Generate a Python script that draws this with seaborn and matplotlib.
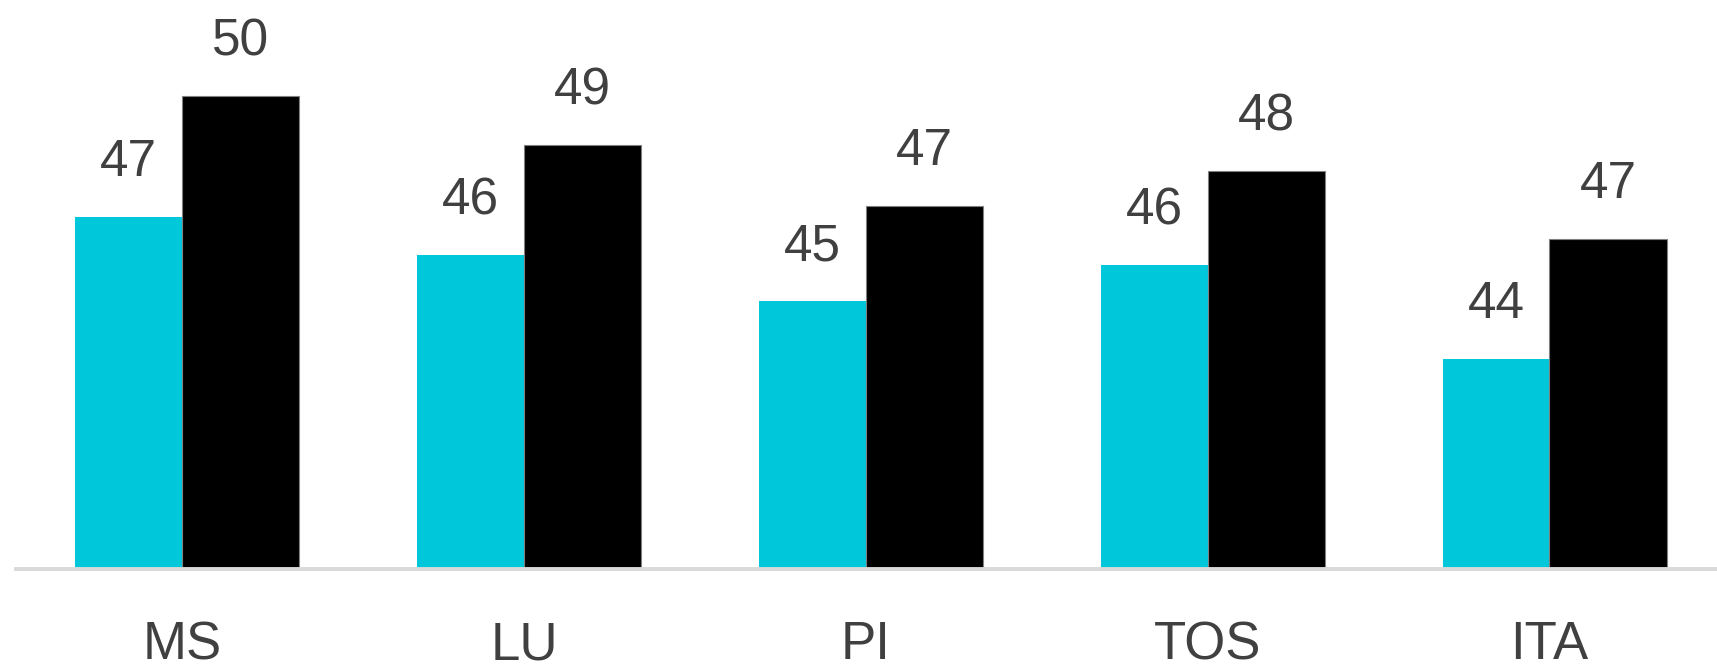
import matplotlib
matplotlib.use("Agg")
import matplotlib.pyplot as plt
import seaborn as sns
import pandas as pd

categories = ["MS", "LU", "PI", "TOS", "ITA"]
series_names = ["A", "B"]
values_a = [47.04, 46.17, 45.12, 45.94, 43.79]
values_b = [49.80, 48.68, 47.29, 48.09, 46.53]

CYAN = "#00C7DA"
BLACK = "#000000"
TEXT = "#404040"

df = pd.DataFrame({
    "cat": categories * 2,
    "val": values_a + values_b,
    "series": [series_names[0]] * len(categories) + [series_names[1]] * len(categories),
})

sns.set_theme(style="white")
plt.rcParams["font.family"] = ["Liberation Sans", "DejaVu Sans"]

fig = plt.figure(figsize=(17.17, 6.67), dpi=100)
ax = fig.add_axes([16 / 1717, 98 / 667, 1 - 16 / 1717, 1 - 98 / 667])

sns.barplot(data=df, x="cat", y="val", hue="series", palette=[CYAN, BLACK],
            width=0.654, gap=0, legend=False, ax=ax, saturation=1, errorbar=None)

# adjust bar geometry: cyan narrower, black wider, touching at category center
w_a, w_b = 0.313, 0.343
for i, p in enumerate(ax.containers[0]):
    p.set_x(i - w_a)
    p.set_width(w_a)
    p.set_edgecolor("none")
for i, p in enumerate(ax.containers[1]):
    p.set_x(i)
    p.set_width(w_b)
    p.set_edgecolor("#808080")
    p.set_linewidth(0.8)

ax.set_ylim(39, 52)
ax.set_xlim(-0.486, 4.49)

for cont, vals, off in [(ax.containers[0], values_a, -w_a / 2), (ax.containers[1], values_b, w_b / 2)]:
    for i, v in enumerate(vals):
        ax.annotate(f"{v:.0f}", xy=(i + off, v), xytext=(0, 29.5), textcoords="offset points",
                    ha="center", va="baseline", fontsize=37, color=TEXT)

for s in ["top", "right", "left"]:
    ax.spines[s].set_visible(False)
ax.spines["bottom"].set_color("#D9D9D9")
ax.spines["bottom"].set_linewidth(2.8)
ax.set_yticks([])
ax.set_xlabel("")
ax.set_ylabel("")
ax.tick_params(axis="x", length=0, pad=37, labelsize=38, labelcolor=TEXT)

fig.savefig("out.png", dpi=100, facecolor="white")
